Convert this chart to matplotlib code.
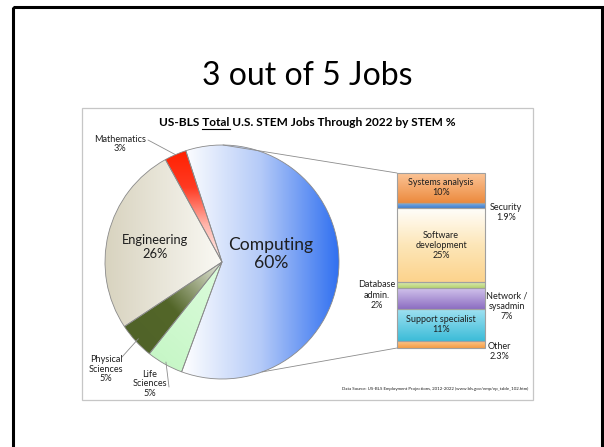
import numpy as np
import matplotlib
matplotlib.use('Agg')
import matplotlib.pyplot as plt
from matplotlib.colors import LinearSegmentedColormap
from matplotlib.patches import Rectangle, ConnectionPatch

plt.rcParams['font.family'] = ['Lato', 'DejaVu Sans']

# STEM fields, clockwise from the top edge of Computing
pie_fields = ['Computing', 'Life\nSciences', 'Physical\nSciences', 'Engineering', 'Mathematics']
pie_shares = [60, 5, 5, 26, 3]

# Computing jobs split out, top to bottom of the stacked bar
bar_fields = ['Systems analysis', 'Security', 'Software\ndevelopment', 'Database\nadmin.',
              'Network /\nsysadmin', 'Support specialist', 'Other']
bar_shares = [10, 1.9, 25, 2, 7, 11, 2.3]

slide_title = '3 out of 5 Jobs'
title_parts = ['US-BLS ', 'Total', ' U.S. STEM Jobs Through 2022 by STEM %']
source_note = 'Data Source: US-BLS Employment Projections, 2012-2022 (www.bls.gov/emp/ep_table_102.htm)'

# gradient fills: colour stops and direction in degrees (0 = left->right, -90 = top->bottom)
pie_fills = [
    (['#ffffff', '#b4caf8', '#2f6ff0'], 0),
    (['#c4f6c4', '#dcfcdc'], 60),
    (['#4f6228', '#536629', '#e9ebe0'], 40),
    (['#d8d3bf', '#faf9f4'], 0),
    (['#ff2000', '#ff3a22', '#ffb4aa', '#fff2f0'], -90),
]
bar_fills = [
    (['#fbc497', '#ec8a3d'], -90),
    (['#8fb6e4', '#3f7fd0'], -90),
    (['#fffefb', '#fde6b8', '#fcd38c'], -90),
    (['#dbeab4', '#b5d36f'], -90),
    (['#d1c3ec', '#8c6dc1'], -90),
    (['#a2e2f2', '#3cbcd8'], -90),
    (['#fcc78c', '#f59c44'], -90),
]

TEXT = '#1e1e1e'
W, H = 604, 447

PIE_CX, PIE_CY, PIE_R = 222, 262, 117
BAR_X0, BAR_X1, BAR_Y0, BAR_Y1 = 397, 485, 173, 348


def px_rect(x0, y0, x1, y1):
    """pixel box (top-left origin) -> figure fraction rect"""
    return [x0 / W, 1 - y1 / H, (x1 - x0) / W, (y1 - y0) / H]


def gradient_fill(ax, patch, stops, angle, bounds):
    x0, y0, x1, y1 = bounds
    cmap = LinearSegmentedColormap.from_list('fill', stops)
    u, v = np.meshgrid(np.linspace(0, 1, 256), np.linspace(0, 1, 256))
    a = np.deg2rad(angle)
    t = u * np.cos(a) + v * np.sin(a)
    t = (t - t.min()) / (t.max() - t.min())
    im = ax.imshow(t, cmap=cmap, extent=(x0, x1, y0, y1), origin='lower',
                   aspect='auto', interpolation='bilinear', zorder=patch.get_zorder() - 0.5)
    im.set_clip_path(patch)


fig = plt.figure(figsize=(W / 100, H / 100), dpi=100)
# overlay in pixel coordinates for frames, titles and labels (drawn above the chart axes)
bg = fig.add_axes([0, 0, 1, 1])
bg.set_xlim(0, W)
bg.set_ylim(H, 0)
bg.axis('off')
bg.set_zorder(10)

# slide frame and chart frame
bg.add_patch(Rectangle((12.5, 6.5), 589, 470, fill=False, edgecolor='black', lw=2.2))
bg.add_patch(Rectangle((82, 108), 451, 292, fill=False, edgecolor='#c6c6c6', lw=0.9))

bg.text(307, 76, slide_title, ha='center', va='center', fontsize=23, color='black')

# chart title with "Total" underlined
renderer = fig.canvas.get_renderer()
tkw = dict(fontsize=8.6, fontweight='bold', color='black')


def text_width(s):
    t = bg.text(0, 0, s, **tkw)
    w = t.get_window_extent(renderer).width
    t.remove()
    return w


full_title = ''.join(title_parts)
bg.text(307.5, 126.5, full_title, ha='center', va='baseline', **tkw)
left = 307.5 - text_width(full_title) / 2
u0 = left + text_width(title_parts[0] + 'T') - text_width('T')
u1 = left + text_width(title_parts[0] + title_parts[1])
bg.plot([u0, u1], [128.8, 128.8], color='black', lw=0.8)

bg.text(528, 389, source_note, ha='right', va='center', fontsize=3.2, color=TEXT)

# pie
pad = 1.1
ax_pie = fig.add_axes(px_rect(PIE_CX - PIE_R * pad, PIE_CY - PIE_R * pad,
                              PIE_CX + PIE_R * pad, PIE_CY + PIE_R * pad))
wedges, _ = ax_pie.pie(pie_shares, startangle=108, counterclock=False, radius=1,
                       wedgeprops=dict(facecolor='none', edgecolor='#8a8a8a', linewidth=0.6))
for w, (stops, ang) in zip(wedges, pie_fills):
    bb = w.get_path().get_extents()
    gradient_fill(ax_pie, w, stops, ang, (bb.x0, bb.y0, bb.x1, bb.y1))
ax_pie.set_xlim(-pad, pad)
ax_pie.set_ylim(-pad, pad)
ax_pie.axis('off')

# stacked bar for the Computing slice
total = sum(bar_shares)
ax_bar = fig.add_axes(px_rect(BAR_X0, BAR_Y0, BAR_X1, BAR_Y1))
tops = total - np.concatenate([[0], np.cumsum(bar_shares)[:-1]])
bottoms = tops - np.array(bar_shares)
bars = ax_bar.bar(0, bar_shares, bottom=bottoms, width=1, facecolor='none',
                  edgecolor='#a0a0a0', linewidth=0.8, clip_on=False)
for b, (stops, ang) in zip(bars, bar_fills):
    x, y = b.get_xy()
    gradient_fill(ax_bar, b, stops, ang, (x, y, x + b.get_width(), y + b.get_height()))
ax_bar.set_xlim(-0.5, 0.5)
ax_bar.set_ylim(0, total)
ax_bar.axis('off')

# series lines from the pie to the bar
for ang, ybar in [(89.5, total), (-70, 0)]:
    a = np.deg2rad(ang)
    fig.add_artist(ConnectionPatch(xyA=(np.cos(a), np.sin(a)), coordsA=ax_pie.transData,
                                   xyB=(-0.5, ybar), coordsB=ax_bar.transData,
                                   color='#8c8c8c', lw=0.6))

# pie labels: (text position, leader start or None, leader radius, font size)
pie_label_pos = [
    ((271, 254), None, 0, 12.6),
    ((150, 384), (169, 387), 0.98, 6.6),
    ((106, 369), (122, 357), 0.97, 6.6),
    ((155, 247), None, 0, 9.3),
    ((120, 144), (148, 140), 1.0, 6.6),
]
for w, name, val, (pos, lead, rr, fs) in zip(wedges, pie_fields, pie_shares, pie_label_pos):
    bg.text(pos[0], pos[1], f'{name}\n{val}%', ha='center', va='center', fontsize=fs,
            color=TEXT, linespacing=1.12)
    if lead is not None:
        m = np.deg2rad((w.theta1 + w.theta2) / 2)
        fig.add_artist(ConnectionPatch(xyA=lead, coordsA=bg.transData,
                                       xyB=(rr * np.cos(m), rr * np.sin(m)),
                                       coordsB=ax_pie.transData, color='#8c8c8c', lw=0.6))

# bar labels: inside the segment, or offset in pixels from the segment's side
bar_label_pos = ['in', ('r', 21, -7), 'in', ('l', -20, -10), ('r', 22, -8), 'in', ('r', 14, -7)]
for b, name, val, where in zip(bars, bar_fields, bar_shares, bar_label_pos):
    yc = b.get_y() + b.get_height() / 2
    label = f'{name}\n{val:g}%'
    if where == 'in':
        ax_bar.text(0, yc, label, ha='center', va='center', fontsize=6.5, color=TEXT,
                    linespacing=1.15, zorder=5)
    else:
        side, dx, dy = where
        xa = 0.5 if side == 'r' else -0.5
        ax_bar.annotate(label, xy=(xa, yc), xytext=(dx, dy), textcoords='offset pixels',
                        ha='center', va='center', fontsize=6.5, color=TEXT,
                        linespacing=1.15, annotation_clip=False)

fig.savefig('out.png', dpi=100)
